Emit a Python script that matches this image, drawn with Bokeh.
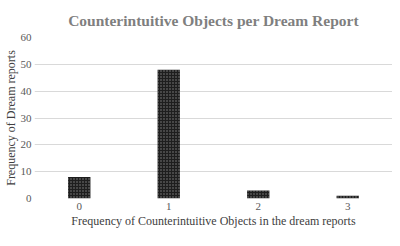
from bokeh.plotting import figure
from bokeh.models import FactorRange, Range1d, SingleIntervalTicker
from bokeh.embed import file_html
from bokeh.resources import INLINE

categories = ["0", "1", "2", "3"]
counts = [8, 48, 3, 1]

p = figure(width=392, height=230, output_backend="svg", toolbar_location=None,
           x_range=FactorRange(*categories, range_padding=0), y_range=Range1d(0, 60),
           title="Counterintuitive Objects per Dream Report",
           min_border_left=27, min_border_right=0, min_border_top=0, min_border_bottom=30)

p.vbar(x=categories, top=counts, width=0.25, fill_color="#1e1e1e", line_color=None,
       hatch_pattern="dot", hatch_color="white", hatch_scale=3, hatch_weight=1, hatch_alpha=0.45)

p.title.text_font = "Liberation Serif"
p.title.text_font_size = "15.5px"
p.title.text_font_style = "bold"
p.title.text_color = "#7f7f7f"
p.title.align = "center"
p.title.offset = -20
p.title.standoff = 18

p.outline_line_color = None
p.xgrid.grid_line_color = None
p.ygrid.grid_line_color = "#d9d9d9"
p.ygrid.grid_line_width = 1
p.yaxis.ticker = SingleIntervalTicker(interval=10)

for ax in (p.xaxis[0], p.yaxis[0]):
    ax.axis_line_color = None
    ax.major_tick_line_color = None
    ax.minor_tick_line_color = None
    ax.major_tick_out = 0
    ax.major_tick_in = 0
    ax.minor_tick_out = 0
    ax.major_label_text_font = "Liberation Serif"
    ax.major_label_text_font_size = "11px"
    ax.major_label_text_color = "#595959"
    ax.axis_label_text_font = "Liberation Serif"
    ax.axis_label_text_font_size = "12px"
    ax.axis_label_text_font_style = "normal"
    ax.axis_label_text_color = "#404040"

p.xaxis.axis_label = "Frequency of Counterintuitive Objects in the dream reports"
p.yaxis.axis_label = "Frequency of Dream reports"
p.xaxis.major_label_standoff = 4
p.xaxis.axis_label_standoff = 1
p.yaxis.major_label_standoff = 3
p.yaxis.axis_label_standoff = 0

open("out.html", "w").write(file_html(p, INLINE))
